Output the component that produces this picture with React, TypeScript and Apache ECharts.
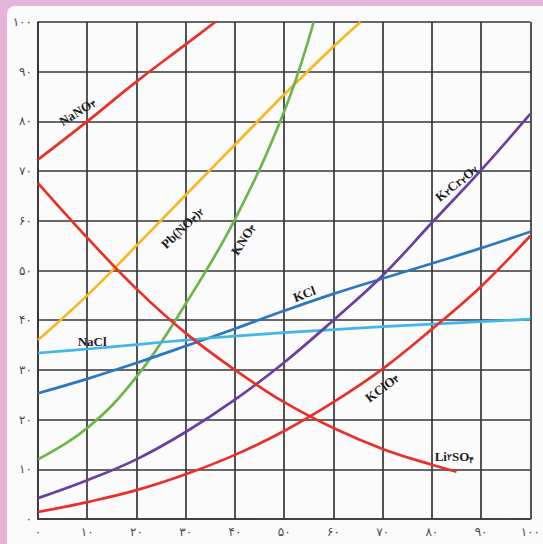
import React, { useEffect, useRef } from "react";
import * as echarts from "echarts";

const tickLabels = ["۰", "۱۰", "۲۰", "۳۰", "۴۰", "۵۰", "۶۰", "۷۰", "۸۰", "۹۰", "۱۰۰"];

const naNO3 = [[0, 72.3], [10, 80], [20, 88], [30, 95.5], [36, 100]];
const pbNO32 = [[0, 36], [10, 45], [20, 55], [30, 65.2], [40, 75.3], [50, 85.4], [60, 95], [65.5, 100]];
const kNO3 = [[0, 12], [10, 18.3], [20, 28.6], [30, 43.3], [40, 60.3], [50, 82], [56, 100]];
const kCl = [[0, 25.3], [10, 28.2], [20, 31.4], [30, 34.8], [40, 38.3], [50, 41.9], [60, 45.3], [70, 48.4], [80, 51.4], [90, 54.5], [100, 57.8]];
const naCl = [[0, 33.4], [10, 34.2], [20, 35.1], [30, 36], [40, 36.8], [50, 37.5], [60, 38.1], [70, 38.7], [80, 39.2], [90, 39.7], [100, 40.2]];
const k2Cr2O7 = [[0, 4.2], [10, 7.8], [20, 12], [30, 17.5], [40, 24], [50, 31.5], [60, 40], [70, 49], [80, 59.6], [90, 70.2], [100, 81.5]];
const kClO3 = [[0, 1.4], [10, 3.4], [20, 5.8], [30, 9], [40, 12.9], [50, 17.7], [60, 23.5], [70, 30.2], [80, 38.2], [90, 46.8], [100, 57]];
const li2SO4 = [[0, 67.6], [10, 56.6], [20, 46.3], [30, 37.4], [40, 30], [50, 23.5], [60, 18.3], [70, 14.1], [80, 10.9], [85, 9.5]];

const seriesDefs = [
  { name: "NaNO3", data: naNO3, color: "#e8302a" },
  { name: "Pb(NO3)2", data: pbNO32, color: "#f6b822" },
  { name: "KNO3", data: kNO3, color: "#6cb649" },
  { name: "KCl", data: kCl, color: "#2a78c0" },
  { name: "NaCl", data: naCl, color: "#40b6ea" },
  { name: "K2Cr2O7", data: k2Cr2O7, color: "#6a3f9f" },
  { name: "KClO3", data: kClO3, color: "#e8302a" },
  { name: "Li2SO4", data: li2SO4, color: "#e8302a" },
];

// label text, anchor in data coords, rotation in degrees
const labelDefs = [
  { text: "NaNO{s|۳}", at: [8.0, 81.9], rot: 32 },
  { text: "Pb(NO{s|۳}){s|۲}", at: [29.3, 58.6], rot: 44 },
  { text: "KNO{s|۳}", at: [41.7, 56.3], rot: 57 },
  { text: "KCl", at: [54.1, 45.3], rot: 21 },
  { text: "NaCl", at: [11.0, 35.8], rot: 0 },
  { text: "K{s|۲}Cr{s|۲}O{s|۷}", at: [85.0, 67.6], rot: 39 },
  { text: "KClO{s|۳}", at: [69.9, 26.4], rot: 37 },
  { text: "Li{m|۲}SO{s|۴}", at: [84.6, 12.5], rot: 0 },
];

const serif = "'Liberation Serif', 'DejaVu Serif', serif";

export default function App() {
  const ref = useRef<HTMLDivElement>(null);
  useEffect(() => {
    if (!ref.current) return;
    const chart = echarts.init(ref.current, undefined, { renderer: "svg" });
    const axisColor = "#363636";
    const labelStyle = {
      color: "#4a4a4a",
      fontSize: 12,
      fontFamily: "'DejaVu Sans', sans-serif",
      formatter: (v: number) => tickLabels[Math.round(v / 10)],
    };
    chart.setOption({
      animation: false,
      backgroundColor: "transparent",
      grid: { left: 38, right: 6, top: 22, bottom: 25, containLabel: false },
      xAxis: {
        type: "value",
        min: 0,
        max: 100,
        interval: 10,
        axisLine: { show: true, lineStyle: { color: axisColor, width: 1.7 } },
        axisTick: { show: false },
        splitLine: { show: true, lineStyle: { color: axisColor, width: 1.7 } },
        axisLabel: { ...labelStyle, margin: 7 },
      },
      yAxis: {
        type: "value",
        min: 0,
        max: 100,
        interval: 10,
        axisLine: { show: true, lineStyle: { color: axisColor, width: 1.7 } },
        axisTick: { show: false },
        splitLine: { show: true, lineStyle: { color: axisColor, width: 1.7 } },
        axisLabel: { ...labelStyle, margin: 6 },
      },
      series: seriesDefs.map((s) => ({
        type: "line",
        name: s.name,
        data: s.data,
        smooth: 0.4,
        showSymbol: false,
        lineStyle: { color: s.color, width: 2.7 },
        z: 3,
      })),
    });
    const graphics = labelDefs.map((l) => {
      const p = chart.convertToPixel({ gridIndex: 0 }, l.at) as number[];
      return {
        type: "text",
        x: p[0],
        y: p[1],
        rotation: (l.rot * Math.PI) / 180,
        z: 100,
        style: {
          text: l.text,
          align: "center",
          verticalAlign: "middle",
          fill: "#1c1c1c",
          font: `bold 13px ${serif}`,
          rich: {
            s: { fontSize: 9, fontWeight: "bold", fontFamily: serif, fill: "#1c1c1c", verticalAlign: "bottom", lineHeight: 9 },
            m: { fontSize: 9, fontWeight: "bold", fontFamily: serif, fill: "#1c1c1c", verticalAlign: "middle", lineHeight: 16 },
          },
        },
      };
    });
    chart.setOption({ graphic: graphics });
    return () => chart.dispose();
  }, []);
  return (
    <div style={{ position: "fixed", left: 0, top: 0, width: 543, height: 544, background: "#e4b5d8", overflow: "hidden" }}>
      <div style={{ position: "absolute", left: 7, top: 6, right: 0, bottom: 0, background: "#fbfbfb", borderTopLeftRadius: 8 }} />
      <div ref={ref} style={{ position: "absolute", left: 0, top: 0, width: 543, height: 544 }} />
    </div>
  );
}
